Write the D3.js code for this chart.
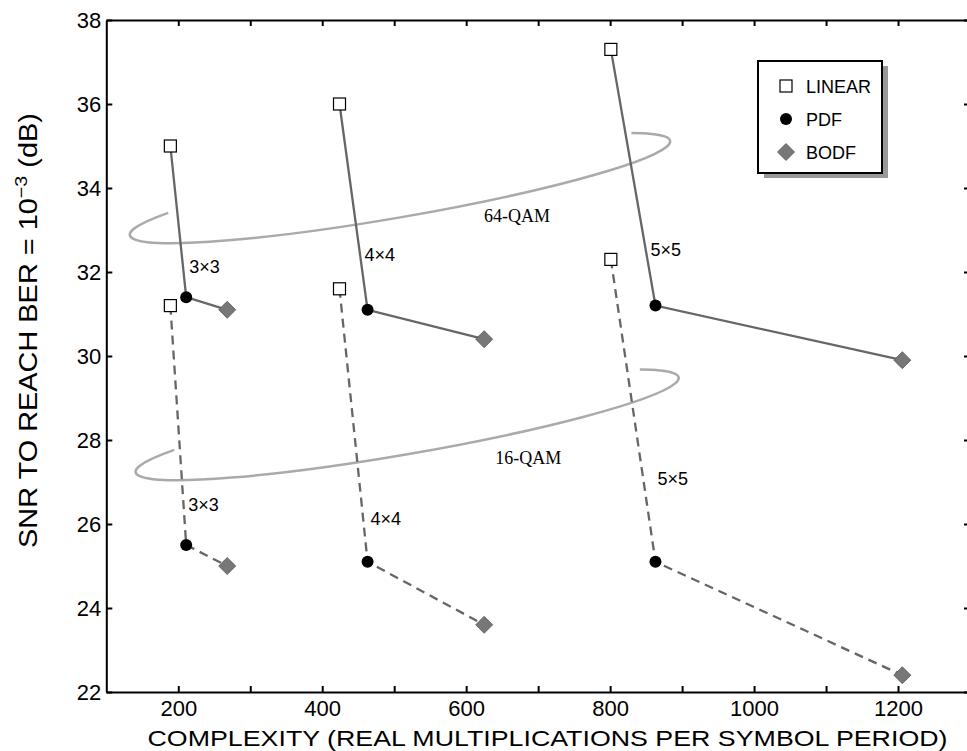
<!DOCTYPE html>
<html>
<head>
<meta charset="utf-8">
<script src="https://cdn.jsdelivr.net/npm/d3@7"></script>
<style>
  body { margin: 0; background: #fff; }
  svg { display: block; font-family: "Liberation Sans", Arial, sans-serif; }
</style>
</head>
<body>
<script>
// chart size
var width = 967;
var height = 751;

// data
var configs = ['3\u00d73', '4\u00d74', '5\u00d75'];
var complexLinear = [189, 424, 801];
var complexPdf = [211, 463, 863];
var complexBodf = [268, 625, 1206];

var snr64Linear = [35.0, 36.0, 37.3];
var snr64Pdf = [31.4, 31.1, 31.2];
var snr64Bodf = [31.1, 30.4, 29.9];

var snr16Linear = [31.2, 31.6, 32.3];
var snr16Pdf = [25.5, 25.1, 25.1];
var snr16Bodf = [25.0, 23.6, 22.4];

var xTicks = [200, 300, 400, 500, 600, 700, 800, 900, 1000, 1100, 1200];
var yTicks = [22, 24, 26, 28, 30, 32, 34, 36, 38];

var legendNames = ['LINEAR', 'PDF', 'BODF'];

// constellation rings (data units): center, half-length along x, half-width in dB
var ringNames = ['64-QAM', '16-QAM'];
var ringCx = [508, 518];
var ringCy = [34.0, 28.36];
var ringRx = [381, 383];
var ringRy = [0.69, 0.69];

var x = d3.scaleLinear().domain([100, 1300]).range([106.3, 970]);
var y = d3.scaleLinear().domain([22, 38]).range([692, 20]);

var svg = d3.select('body').append('svg')
  .attr('width', width)
  .attr('height', height);

var lineColor = '#666';
var ringColor = '#aaa';

// rings behind everything (open at the back)
var ringLabelOff = [[117, 33.5], [121, 39]];
ringNames.forEach(function(name, k) {
  var cx = x(ringCx[k]), cy = y(ringCy[k]);
  var a = x(ringCx[k] + ringRx[k]) - cx;
  var b = y(ringCy[k] - ringRy[k]) - cy;
  var th = -9.9 * Math.PI / 180;
  function pt(t) {
    t = t * Math.PI / 180;
    return [cx + a * Math.cos(t) * Math.cos(th) - b * Math.sin(t) * Math.sin(th),
            cy + a * Math.cos(t) * Math.sin(th) + b * Math.sin(t) * Math.cos(th)];
  }
  var p0 = pt(212), p1 = pt(-30);
  svg.append('path')
    .attr('d', 'M' + p0[0] + ',' + p0[1] + ' A' + a + ',' + b + ' ' + (th * 180 / Math.PI) + ' 1 0 ' + p1[0] + ',' + p1[1])
    .attr('fill', 'none')
    .attr('stroke', ringColor)
    .attr('stroke-width', 2.5);
  svg.append('text')
    .attr('x', cx + ringLabelOff[k][0])
    .attr('y', cy + ringLabelOff[k][1])
    .attr('text-anchor', 'middle')
    .style('font-family', '"Liberation Serif", "Times New Roman", serif')
    .style('font-size', '18px')
    .text(name);
});

// axes, ticks pointing inward
var axisB = svg.append('g').attr('transform', 'translate(0,' + y(22) + ')')
  .call(d3.axisBottom(x).tickValues(xTicks).tickSizeInner(-6).tickSizeOuter(0).tickPadding(8)
    .tickFormat(function(d) { return d % 200 === 0 ? d : ''; }));
var axisT = svg.append('g').attr('transform', 'translate(0,' + y(38) + ')')
  .call(d3.axisTop(x).tickValues(xTicks).tickSizeInner(-6).tickSizeOuter(0).tickFormat(''));
var axisL = svg.append('g').attr('transform', 'translate(' + x(100) + ',0)')
  .call(d3.axisLeft(y).tickValues(yTicks).tickSizeInner(-6).tickSizeOuter(0).tickPadding(5));
var axisR = svg.append('g').attr('transform', 'translate(' + x(1300) + ',0)')
  .call(d3.axisRight(y).tickValues(yTicks).tickSizeInner(-6).tickSizeOuter(0).tickFormat(''));

[axisB, axisT, axisL, axisR].forEach(function(g) {
  g.selectAll('path').attr('stroke', '#000').attr('stroke-width', 2);
  g.selectAll('line').attr('stroke', '#000').attr('stroke-width', 2);
  g.selectAll('text').style('font-size', '22px').style('font-family', '"Liberation Sans", Arial, sans-serif').attr('fill', '#000');
});

// axis titles
svg.append('text')
  .attr('x', 547.5)
  .attr('y', 746)
  .attr('text-anchor', 'middle')
  .attr('textLength', 800)
  .attr('lengthAdjust', 'spacingAndGlyphs')
  .style('font-size', '22px')
  .text('COMPLEXITY (REAL MULTIPLICATIONS PER SYMBOL PERIOD)');

var yTitle = svg.append('text')
  .style('font-size', '25px');
yTitle.append('tspan').text('SNR TO REACH BER = 10');
yTitle.append('tspan').attr('dy', -10).style('font-size', '17px').text('\u22123');
yTitle.append('tspan').attr('dy', 10).text(' (dB)');
var yLen = yTitle.node().getComputedTextLength();
var yWanted = 435;
yTitle.attr('transform', 'translate(37,' + (330.5 + yWanted / 2) + ') rotate(-90) scale(' + (yWanted / yLen) + ',1)');

// series
var groups = [
  {lin: snr64Linear, pdf: snr64Pdf, bodf: snr64Bodf, dash: null,
   lab: [[3, -24], [-3, -49], [-5, -50]]},
  {lin: snr16Linear, pdf: snr16Pdf, bodf: snr16Bodf, dash: '9,6',
   lab: [[2, -34], [3, -37], [2, -77]]}
];

var line = d3.line().x(function(d) { return x(d[0]); }).y(function(d) { return y(d[1]); });

groups.forEach(function(g) {
  configs.forEach(function(c, i) {
    var pts = [[complexLinear[i], g.lin[i]], [complexPdf[i], g.pdf[i]], [complexBodf[i], g.bodf[i]]];
    svg.append('path')
      .attr('d', line(pts))
      .attr('fill', 'none')
      .attr('stroke', lineColor)
      .attr('stroke-width', 2.3)
      .attr('stroke-dasharray', g.dash);
    svg.append('text')
      .attr('x', x(complexPdf[i]) + g.lab[i][0])
      .attr('y', y(g.pdf[i]) + g.lab[i][1])
      .style('font-size', '18px')
      .text(c);
  });
});

function drawSquare(sel, cx, cy) {
  sel.append('rect')
    .attr('x', cx - 6).attr('y', cy - 6)
    .attr('width', 12).attr('height', 12)
    .attr('fill', '#fff').attr('stroke', '#000').attr('stroke-width', 1.2);
}
function drawDot(sel, cx, cy) {
  sel.append('circle').attr('cx', cx).attr('cy', cy).attr('r', 6).attr('fill', '#000');
}
function drawDiamond(sel, cx, cy) {
  sel.append('path')
    .attr('d', 'M' + cx + ',' + (cy - 8.5) + 'L' + (cx + 8.5) + ',' + cy + 'L' + cx + ',' + (cy + 8.5) + 'L' + (cx - 8.5) + ',' + cy + 'Z')
    .attr('fill', '#777').attr('stroke', '#555').attr('stroke-width', 0.8);
}

var marks = svg.append('g');
groups.forEach(function(g) {
  configs.forEach(function(c, i) {
    drawSquare(marks, x(complexLinear[i]), y(g.lin[i]));
    drawDot(marks, x(complexPdf[i]), y(g.pdf[i]));
    drawDiamond(marks, x(complexBodf[i]), y(g.bodf[i]));
  });
});

// legend with drop shadow
var legend = svg.append('g').attr('transform', 'translate(758,61)');
legend.append('rect').attr('x', 6).attr('y', 5).attr('width', 124).attr('height', 112).attr('fill', '#999');
legend.append('rect').attr('width', 124).attr('height', 112).attr('fill', '#fff').attr('stroke', '#000').attr('stroke-width', 2);
var drawers = [drawSquare, drawDot, drawDiamond];
legendNames.forEach(function(n, i) {
  drawers[i](legend, 28, 25 + i * 33);
  legend.append('text')
    .attr('x', 48)
    .attr('y', 25 + i * 33 + 6.5)
    .style('font-size', '18px')
    .text(n);
});
</script>
</body>
</html>
